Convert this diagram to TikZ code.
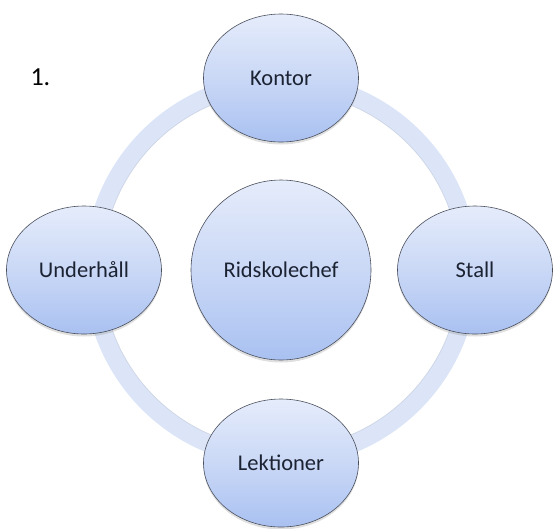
\documentclass[tikz,border=0pt]{standalone}
\usepackage{fontspec}
\setmainfont{Carlito}
\usetikzlibrary{shadows,shapes.geometric}
\definecolor{ringblue}{HTML}{DCE5F7}
\definecolor{ringedge}{HTML}{C3CCDD}
\definecolor{nodetop}{HTML}{E5ECFB}
\definecolor{nodemid}{HTML}{CAD8F6}
\definecolor{nodebottom}{HTML}{A9C1F1}
\definecolor{nodeedge}{HTML}{4A4F5C}
\definecolor{labeltext}{HTML}{1B2232}
\tikzset{
  bubble/.style={ellipse, draw=nodeedge, line width=0.6pt,
    top color=nodetop, bottom color=nodebottom, middle color=nodemid,
    drop shadow={opacity=0.25, shadow xshift=0pt, shadow yshift=-2.5pt},
    text=labeltext, font=\fontsize{22.5}{26}\selectfont, inner sep=0pt},
  outer/.style={bubble, minimum width=155pt, minimum height=128pt},
  hub/.style={bubble, minimum width=180pt, minimum height=180pt},
  ring/.style={draw=ringblue, line width=18pt}
}
\begin{document}
\begin{tikzpicture}[x=1pt, y=-1pt]
  \useasboundingbox (0,0) rectangle (553,528);
  \clip (0,0) rectangle (553,528);
  % cycle ring behind the nodes
  \coordinate (c) at (281,270);
  \draw[ring] (c) circle[radius=188pt];
  \draw[ringedge, line width=0.7pt, opacity=0.7] (c) circle[radius=179pt];
  % nodes
  \node[hub] (chef) at (281,270) {Ridskolechef};
  \node[outer] (kontor) at (281,78) {Kontor};
  \node[outer] (stall) at (475,270) {Stall};
  \node[outer] (lekt) at (281,463) {Lektioner};
  \node[outer] (under) at (84,270) {Underhåll};
  % number label
  \node[font=\fontsize{26}{30}\selectfont, text=black, anchor=west] (num) at (27,77) {1.};
\end{tikzpicture}
\end{document}
